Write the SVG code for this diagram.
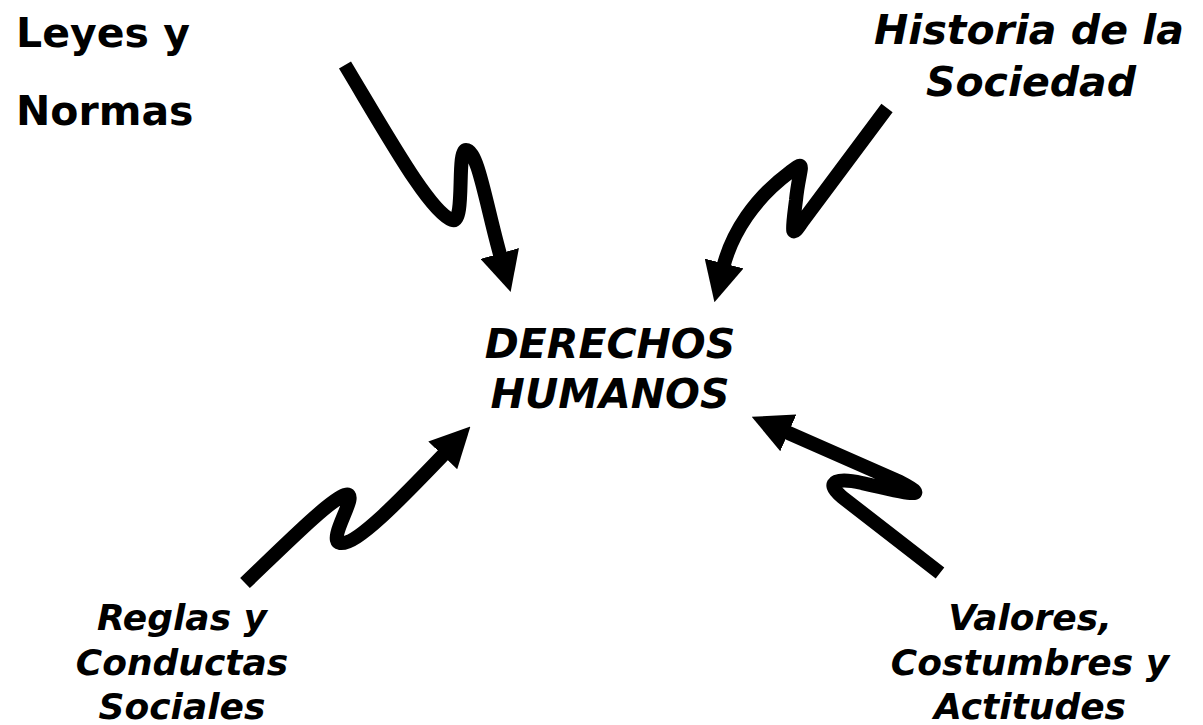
<svg xmlns="http://www.w3.org/2000/svg" width="1203" height="725" viewBox="0 0 1203 725">
<style>
.t{font-family:"DejaVu Sans",Verdana,sans-serif;font-weight:bold;fill:#000}
.i{font-style:italic}
.a{fill:none;stroke:#000;stroke-width:14;stroke-linecap:butt;stroke-linejoin:round}
</style>
<defs>
<marker id="ah" markerUnits="userSpaceOnUse" markerWidth="40" markerHeight="40" viewBox="0 0 34 34" refX="4" refY="17" orient="auto">
<path d="M0,0 L34,17 L0,34 Z" fill="#000"/>
</marker>
</defs>
<rect width="1203" height="725" fill="#fff"/>
<g id="connectors">
<path class="a" marker-end="url(#ah)" d="M345,65 C390,140 430,212 452,220 C466,225 456,150 466,150 C478,150 486,205 501,258"/>
<path class="a" marker-end="url(#ah)" d="M887,108 L802,222 C790,240 792,232 796,200 C799,168 808,158 790,172 C755,198 732,232 723,268"/>
<path class="a" marker-end="url(#ah)" d="M245,583 C290,540 330,500 345,495 C362,490 326,540 340,543 C356,546 400,500 446,452"/>
<path class="a" marker-end="url(#ah)" d="M940,573 L842,497 C822,480 840,478 862,483 C905,493 935,500 900,482 L784,431"/>
</g>
<g id="node-leyes"><text class="t" x="16" y="47" font-size="41">Leyes y</text><text class="t" x="16" y="125" font-size="41">Normas</text></g>
<g id="node-historia"><text class="t i" x="1029" y="44" font-size="41" text-anchor="middle">Historia de la</text><text class="t i" x="1031" y="96" font-size="41" text-anchor="middle">Sociedad</text></g>
<g id="node-derechos"><text class="t i" x="610" y="358" font-size="41" text-anchor="middle">DERECHOS</text><text class="t i" x="610" y="408" font-size="41" text-anchor="middle">HUMANOS</text></g>
<g id="node-reglas"><text class="t i" x="182" y="630" font-size="36" text-anchor="middle">Reglas y</text><text class="t i" x="182" y="675" font-size="36" text-anchor="middle">Conductas</text><text class="t i" x="182" y="719" font-size="36" text-anchor="middle">Sociales</text></g>
<g id="node-valores"><text class="t i" x="1030" y="630" font-size="36" text-anchor="middle">Valores,</text><text class="t i" x="1030" y="675" font-size="36" text-anchor="middle">Costumbres y</text><text class="t i" x="1030" y="719" font-size="36" text-anchor="middle">Actitudes</text></g>
</svg>
